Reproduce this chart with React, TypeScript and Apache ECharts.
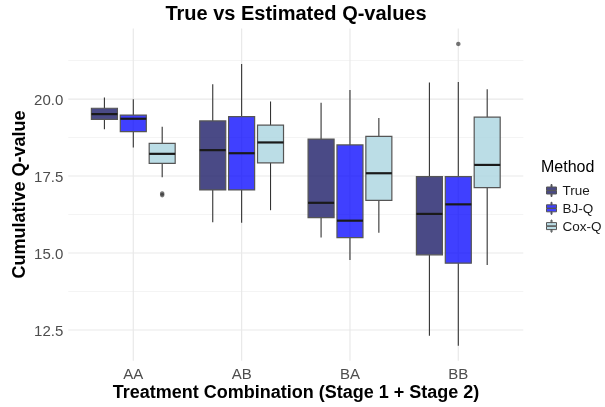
import React, { useEffect, useRef } from "react";
import * as echarts from "echarts";

const categories = ["AA", "AB", "BA", "BB"];
const methods = ["True", "BJ-Q", "Cox-Q"];
const methodColors = ["rgba(42,42,113,0.85)", "rgba(0,0,255,0.75)", "rgba(175,215,226,0.85)"];

// per method: whisker low, Q1, median, Q3, whisker high (one value per category)
const trueLow = [19.02, 16.0, 15.5, 12.31];
const trueQ1 = [19.34, 17.05, 16.15, 14.94];
const trueMed = [19.51, 18.34, 16.63, 16.27];
const trueQ3 = [19.7, 19.29, 18.7, 17.48];
const trueHigh = [20.05, 20.48, 19.88, 20.54];

const bjLow = [18.43, 15.98, 14.77, 11.99];
const bjQ1 = [18.94, 17.05, 15.5, 14.67];
const bjMed = [19.36, 18.24, 16.05, 16.58];
const bjQ3 = [19.48, 19.43, 18.51, 17.48];
const bjHigh = [19.99, 21.14, 20.29, 20.55];

const coxLow = [17.46, 16.39, 15.66, 14.61];
const coxQ1 = [17.91, 17.93, 16.71, 17.12];
const coxMed = [18.22, 18.59, 17.59, 17.86];
const coxQ3 = [18.56, 19.15, 18.79, 19.41];
const coxHigh = [19.1, 19.92, 19.38, 20.32];

// outliers: [category index, value]
const trueOutliers: number[][] = [];
const bjOutliers = [[3, 21.79]];
const coxOutliers = [[0, 16.93], [0, 16.88]];

const yMajorTicks = [12.5, 15, 17.5, 20];
const yMinorTicks = [13.75, 16.25, 18.75, 21.25];

const stats = [
  [trueLow, trueQ1, trueMed, trueQ3, trueHigh],
  [bjLow, bjQ1, bjMed, bjQ3, bjHigh],
  [coxLow, coxQ1, coxMed, coxQ3, coxHigh],
];
const outliers = [trueOutliers, bjOutliers, coxOutliers];

const DODGE = 0.8;
const BOX_W = (DODGE / 3) * 0.9;
const FONT = "'Liberation Sans', Arial, Helvetica, sans-serif";

export default function App() {
  const ref = useRef<HTMLDivElement>(null);
  useEffect(() => {
    if (!ref.current) return;
    const chart = echarts.init(ref.current, null, { renderer: "svg" });

    const boxSeries = methods.map((name, mi) => {
      const offset = (mi - 1) * (DODGE / 3);
      const s = stats[mi];
      const data = categories.map((_, ci) => [ci + 1, s[0][ci], s[1][ci], s[2][ci], s[3][ci], s[4][ci]]);
      return {
        type: "custom",
        name,
        z: 3,
        itemStyle: { color: methodColors[mi], borderColor: "#555", borderWidth: 1 },
        encode: { x: 0, y: [1, 2, 3, 4, 5] },
        data,
        renderItem: (params: any, api: any) => {
          const x = api.value(0) + offset;
          const pLo = api.coord([x, api.value(1)]);
          const pQ1 = api.coord([x, api.value(2)]);
          const pMed = api.coord([x, api.value(3)]);
          const pQ3 = api.coord([x, api.value(4)]);
          const pHi = api.coord([x, api.value(5)]);
          const hw = api.size([BOX_W, 0])[0] / 2;
          const cx = pMed[0];
          return {
            type: "group",
            children: [
              { type: "line", shape: { x1: cx, y1: pHi[1], x2: cx, y2: pQ3[1] }, style: { stroke: "#333", lineWidth: 1.1 } },
              { type: "line", shape: { x1: cx, y1: pQ1[1], x2: cx, y2: pLo[1] }, style: { stroke: "#333", lineWidth: 1.1 } },
              {
                type: "rect",
                shape: { x: cx - hw, y: pQ3[1], width: hw * 2, height: pQ1[1] - pQ3[1] },
                style: { fill: methodColors[mi], stroke: "#555", lineWidth: 1.2 },
              },
              { type: "line", shape: { x1: cx - hw, y1: pMed[1], x2: cx + hw, y2: pMed[1] }, style: { stroke: "#1a1a1a", lineWidth: 2.2 } },
            ],
          };
        },
      };
    });

    const outlierSeries = methods.map((name, mi) => {
      const offset = (mi - 1) * (DODGE / 3);
      return {
        type: "scatter",
        name: name + " outliers",
        z: 4,
        symbol: "circle",
        symbolSize: 4.5,
        itemStyle: { color: "rgba(51,51,51,0.85)" },
        data: outliers[mi].map((o) => [o[0] + 1 + offset, o[1]]),
      };
    });

    const hGrid = {
      type: "custom",
      name: "hgrid",
      z: 1,
      silent: true,
      data: [...yMajorTicks.map((v) => [1, v, 1]), ...yMinorTicks.map((v) => [1, v, 0])],
      encode: { x: 0, y: 1 },
      renderItem: (params: any, api: any) => {
        const cs = params.coordSys;
        const y = api.coord([1, api.value(1)])[1];
        const major = api.value(2) === 1;
        return {
          type: "line",
          shape: { x1: cs.x, y1: y, x2: cs.x + cs.width, y2: y },
          style: { stroke: major ? "#e9e9e9" : "#f3f3f3", lineWidth: major ? 1.2 : 0.9 },
        };
      },
    };
    const vGrid = {
      type: "custom",
      name: "vgrid",
      z: 1,
      silent: true,
      data: categories.map((_, i) => [i + 1, 15]),
      encode: { x: 0, y: 1 },
      renderItem: (params: any, api: any) => {
        const cs = params.coordSys;
        const x = api.coord([api.value(0), 15])[0];
        return {
          type: "line",
          shape: { x1: x, y1: cs.y, x2: x, y2: cs.y + cs.height },
          style: { stroke: "#e9e9e9", lineWidth: 1.2 },
        };
      },
    };

    const icon = "path://M4.5,0h1v2.5h-1z M0,2.5h10v3.3h-10z M0,6.2h10v3.3h-10z M4.5,9.5h1v2.5h-1z";

    chart.setOption({
      animation: false,
      textStyle: { fontFamily: FONT },
      grid: { left: 68.3, top: 28.5, width: 455, height: 332.3, containLabel: false, outerBoundsMode: "none" },
      xAxis: {
        type: "value",
        min: 0.4,
        max: 4.6,
        axisLine: { show: false },
        axisTick: { show: false },
        splitLine: { show: false },
        axisLabel: {
          customValues: [1, 2, 3, 4],
          formatter: (v: number) => categories[Math.round(v) - 1] ?? "",
          color: "#4d4d4d",
          fontSize: 15,
          margin: 5,
          fontFamily: FONT,
        },
      },
      yAxis: {
        type: "value",
        min: 11.5,
        max: 22.29,
        axisLine: { show: false },
        axisTick: { show: false },
        splitLine: { show: false },
        axisLabel: {
          customValues: yMajorTicks,
          formatter: (v: number) => v.toFixed(1),
          color: "#4d4d4d",
          fontSize: 15,
          margin: 5,
          fontFamily: FONT,
        },
      },
      legend: {
        data: methods.map((m, i) => ({
          name: m,
          icon,
          itemStyle: { color: methodColors[i], borderColor: "#555", borderWidth: 1 },
        })),
        orient: "vertical",
        left: 541,
        top: 178.5,
        itemWidth: 10,
        itemHeight: 12,
        itemGap: 3.8,
        selectedMode: false,
        textStyle: { fontSize: 13.5, lineHeight: 14, color: "#1a1a1a", fontFamily: FONT, padding: [0, 0, 0, 1] },
      },
      graphic: [
        {
          type: "text",
          x: 296,
          y: 13,
          style: { text: "True vs Estimated Q-values", font: `bold 20px ${FONT}`, fill: "#000", align: "center", verticalAlign: "middle" },
        },
        {
          type: "text",
          x: 296,
          y: 391.5,
          style: { text: "Treatment Combination (Stage 1 + Stage 2)", font: `bold 18px ${FONT}`, fill: "#000", align: "center", verticalAlign: "middle" },
        },
        {
          type: "text",
          x: 18.5,
          y: 194.6,
          rotation: Math.PI / 2,
          style: { text: "Cumulative Q-value", font: `bold 18px ${FONT}`, fill: "#000", align: "center", verticalAlign: "middle" },
        },
        {
          type: "text",
          x: 541,
          y: 166,
          style: { text: "Method", font: `16px ${FONT}`, fill: "#000", align: "left", verticalAlign: "middle" },
        },
      ],
      series: [hGrid, vGrid, ...boxSeries, ...outlierSeries],
    });
    return () => chart.dispose();
  }, []);
  return <div ref={ref} style={{ position: "fixed", left: 0, top: 0, width: 605, height: 407 }} />;
}
